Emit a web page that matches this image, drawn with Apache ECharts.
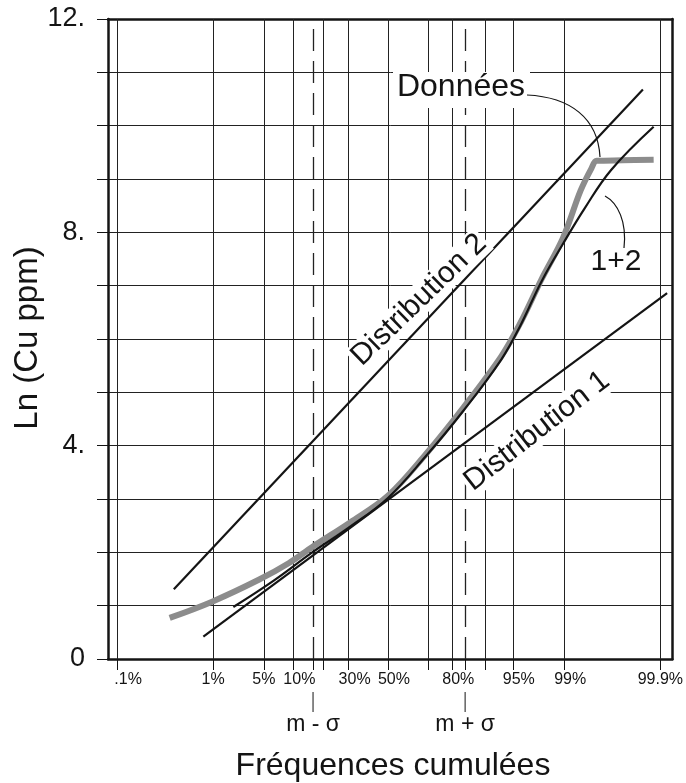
<!DOCTYPE html>
<html><head><meta charset="utf-8">
<script src="https://cdn.jsdelivr.net/npm/echarts@6/dist/echarts.min.js"></script>
<style>html,body{margin:0;padding:0;background:#fff}#c{width:686px;height:783px}</style>
</head><body><div id="c"></div>
<script>
// x axis in normal-probability units (as drawn on the chart)
const tickLabels = ['.1%','1%','5%','10%','','30%','50%','','80%','','95%','99%','99.9%'];
const tickZ      = [-3.58,-2.31,-1.64,-1.25,-0.85,-0.52,0,0.53,0.85,1.28,1.65,2.33,3.60];
const sigmaLabels = ['m - σ','m + σ'];
const sigmaZ      = [-0.99, 1.02];
const yLabelValues = [0,4,8,12];
const yLabelTexts  = ['0','4.','8.','12.'];

// Données (observed cumulative curve)
const dataZ  = [-2.885,-2.316,-1.701,-1.307,-1.0,-0.5,0.0,0.5,1.0,1.5,1.75,2.03,2.315,2.546,2.69,2.76,3.1,3.512];
const dataLn = [0.77,1.08,1.49,1.80,2.10,2.56,3.06,3.84,4.72,5.68,6.30,7.12,7.90,8.78,9.20,9.34,9.35,9.36];
// 1+2 (mixture)
const mixZ  = [-2.043,-1.5,-1.0,-0.5,0.0,0.5,1.0,1.5,1.75,2.03,2.32,2.6,2.95,3.512];
const mixLn = [0.975,1.48,2.0,2.48,3.02,3.80,4.66,5.62,6.25,7.08,7.80,8.45,9.17,9.98];
// Distributions
const dist1Z  = [-2.44, 3.69];
const dist1Ln = [0.42, 6.86];
const dist2Z  = [-2.83, 3.37];
const dist2Ln = [1.31, 10.68];

const FONT = '"Liberation Sans", Arial, Helvetica, sans-serif';
const INK = '#141414';
const zip = (a,b) => a.map((v,i)=>[v,b[i]]);

const chart = echarts.init(document.getElementById('c'), null, {renderer:'canvas'});
const xMin = -3.70, xMax = 3.76;

const labelZ = tickZ.filter((z,i)=>tickLabels[i] !== '');
function xLabel(v){
  const i = tickZ.findIndex(z=>Math.abs(z-v)<1e-9);
  if (i < 0 || !tickLabels[i]) return '';
  const t = tickLabels[i];
  const key = t === '.1%' ? 'l' : ((t === '1%' || t === '99.9%' || t === '5%') ? 'n' : 's');
  return '{' + key + '|' + t + '}';
}
const lblRich = {
  n:{fontFamily:FONT,fontSize:16,color:INK,padding:[0,0,0,0]},
  s:{fontFamily:FONT,fontSize:16,color:INK,padding:[0,0,0,12]},
  l:{fontFamily:FONT,fontSize:16,color:INK,padding:[0,0,0,22]}
};

const option = {
  animation:false,
  backgroundColor:'#fff',
  grid:{left:108,right:11,top:19,bottom:124},
  xAxis:[{
    type:'value', min:xMin, max:xMax, position:'bottom',
    axisLine:{show:true,onZero:false,lineStyle:{color:INK,width:2.5}},
    axisTick:{show:true,inside:false,length:11,lineStyle:{color:INK,width:1},customValues:tickZ.concat(sigmaZ)},
    axisLabel:{show:true,customValues:labelZ,formatter:xLabel,rich:lblRich,margin:13,fontFamily:FONT,fontSize:16,color:INK},
    splitLine:{show:false}
  },{
    type:'value', min:xMin, max:xMax, position:'top',
    axisLine:{show:true,onZero:false,lineStyle:{color:INK,width:2.5}},
    axisTick:{show:false}, axisLabel:{show:false}, splitLine:{show:false}
  }],
  yAxis:[{
    type:'value', min:0, max:12, interval:1, position:'left',
    axisLine:{show:true,onZero:false,lineStyle:{color:INK,width:2.5}},
    axisTick:{show:true,inside:false,length:11,lineStyle:{color:INK,width:1}},
    axisLabel:{margin:23,fontFamily:FONT,fontSize:27,color:INK,
      formatter:v=>{const i=yLabelValues.indexOf(v);return i<0?'':yLabelTexts[i];}},
    splitLine:{show:true,lineStyle:{color:'#222',width:1}}
  },{
    type:'value', min:0, max:12, position:'right',
    axisLine:{show:true,onZero:false,lineStyle:{color:INK,width:2.5}},
    axisTick:{show:false}, axisLabel:{show:false}, splitLine:{show:false}
  }],
  series:[
    {type:'line', name:'grid', data:[], z:1, silent:true,
     markLine:{silent:true, z:1, symbol:['none','none'], label:{show:false},
       lineStyle:{color:'#222',width:1,type:'solid'},
       data:tickZ.map(z=>({xAxis:z}))}},
    {type:'line', name:'sigma', data:[], z:1, silent:true,
     markLine:{silent:true, z:1, symbol:['none','none'], label:{show:false},
       lineStyle:{color:'#222',width:1.3,type:[22,10]},
       data:sigmaZ.map(z=>({xAxis:z}))}},
    {type:'line', name:'Données', data:zip(dataZ,dataLn), z:3, showSymbol:false, symbol:'none',
     smooth:0.35,
     lineStyle:{color:'#8c8c8c',width:6,cap:'butt'}},
    {type:'line', name:'1+2', data:zip(mixZ,mixLn), z:4, showSymbol:false, symbol:'none',
     smooth:0.4, lineStyle:{color:INK,width:2.2}},
    {type:'line', name:'Distribution 1', data:zip(dist1Z,dist1Ln), z:4, showSymbol:false, symbol:'none',
     lineStyle:{color:INK,width:2.2}},
    {type:'line', name:'Distribution 2', data:zip(dist2Z,dist2Ln), z:4, showSymbol:false, symbol:'none',
     lineStyle:{color:INK,width:2.2}}
  ]
};
chart.setOption(option);

const g = [];
// sigma marks below axis
sigmaZ.forEach((z,i)=>{
  const px = chart.convertToPixel({xAxisIndex:0}, z);
  g.push({type:'line', z:10, shape:{x1:px,y1:692,x2:px,y2:712}, style:{stroke:INK,lineWidth:1}});
  g.push({type:'text', z:10, x:px, y:725, style:{text:sigmaLabels[i], fontFamily:FONT, fontSize:23, fill:INK, align:'center', verticalAlign:'middle'}});
});
// Données label with knockout
g.push({type:'rect', z:10, shape:{x:393,y:72,width:137,height:36}, style:{fill:'#fff'}});
g.push({type:'text', z:11, x:461, y:87, style:{text:'Données', fontFamily:FONT, fontSize:32, fill:INK, align:'center', verticalAlign:'middle'}});
g.push({type:'bezierCurve', z:11, shape:{x1:527,y1:95,cpx1:570,cpy1:97,cpx2:598,cpy2:118,x2:600,y2:157}, style:{stroke:INK,lineWidth:1.2,fill:'none'}});
// 1+2 label
g.push({type:'text', z:11, x:616, y:262, style:{text:'1+2', fontFamily:FONT, fontSize:30, fill:INK, align:'center', verticalAlign:'middle'}});
g.push({type:'bezierCurve', z:11, shape:{x1:605,y1:196,cpx1:618,cpy1:203,cpx2:627,cpy2:222,x2:624,y2:248}, style:{stroke:INK,lineWidth:1.2,fill:'none'}});
// Distribution labels
g.push({type:'text', z:11, x:419, y:300, rotation:44*Math.PI/180, style:{text:'Distribution 2', fontFamily:FONT, fontSize:30, fill:INK, align:'center', verticalAlign:'middle', backgroundColor:'#fff', padding:[0,2]}});
g.push({type:'text', z:11, x:537, y:431, rotation:38*Math.PI/180, style:{text:'Distribution 1', fontFamily:FONT, fontSize:30, fill:INK, align:'center', verticalAlign:'middle', backgroundColor:'#fff', padding:[0,2]}});
// Axis titles
g.push({type:'text', z:11, x:28, y:338, rotation:Math.PI/2, style:{text:'Ln (Cu ppm)', fontFamily:FONT, fontSize:33, fill:INK, align:'center', verticalAlign:'middle'}});
g.push({type:'text', z:11, x:393, y:766, style:{text:'Fréquences cumulées', fontFamily:FONT, fontSize:32, fill:INK, align:'center', verticalAlign:'middle'}});
chart.setOption({graphic:{elements:g}});
</script>
</body></html>
